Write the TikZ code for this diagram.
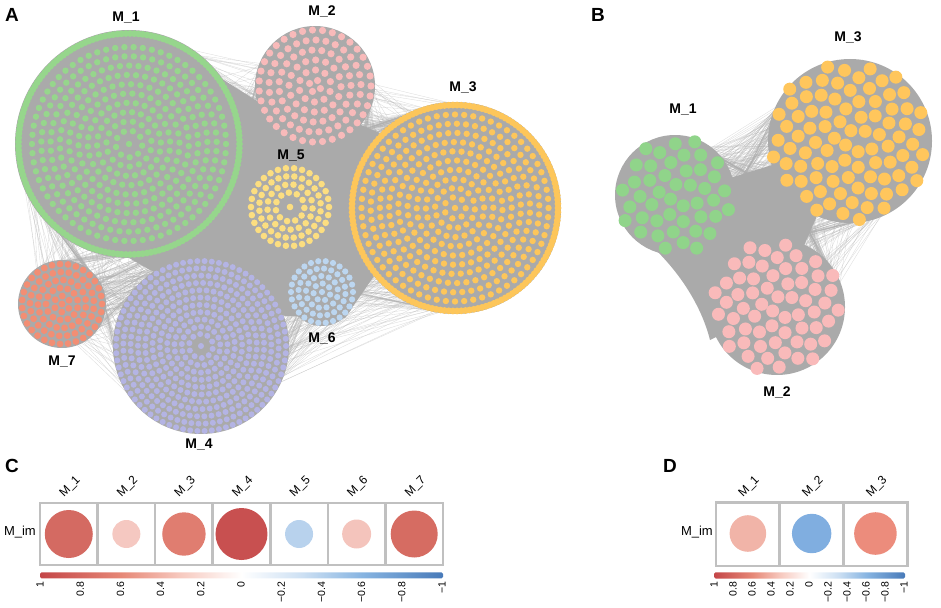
\documentclass[tikz,border=0pt]{standalone}
\usepackage{fontspec}
\setmainfont{Liberation Sans}
\usetikzlibrary{calc}
\definecolor{edgec}{RGB}{172,172,172}
\definecolor{coreg}{RGB}{170,170,170}
\definecolor{gridg}{RGB}{192,192,192}
\definecolor{m1c}{RGB}{150,214,140}
\definecolor{m2c}{RGB}{248,186,186}
\definecolor{m3c}{RGB}{253,198,90}
\definecolor{m4c}{RGB}{180,180,228}
\definecolor{m5c}{RGB}{252,222,128}
\definecolor{m6c}{RGB}{188,214,240}
\definecolor{m7c}{RGB}{242,142,116}
\definecolor{bgc}{RGB}{144,212,138}
\definecolor{byc}{RGB}{255,198,92}
\definecolor{bpc}{RGB}{249,186,186}
\definecolor{cbA}{RGB}{196,70,72}
\definecolor{cbB}{RGB}{230,135,118}
\definecolor{cbC}{RGB}{247,202,192}
\definecolor{cbD}{RGB}{205,224,243}
\definecolor{cbE}{RGB}{135,180,225}
\definecolor{cbF}{RGB}{72,122,185}
\definecolor{cC1}{RGB}{212,106,98}
\definecolor{cC2}{RGB}{245,200,193}
\definecolor{cC3}{RGB}{224,125,112}
\definecolor{cC4}{RGB}{200,80,80}
\definecolor{cC5}{RGB}{184,210,237}
\definecolor{cC6}{RGB}{244,196,188}
\definecolor{cC7}{RGB}{214,108,98}
\definecolor{cD1}{RGB}{241,180,168}
\definecolor{cD2}{RGB}{128,174,224}
\definecolor{cD3}{RGB}{236,140,124}
\pgfdeclarehorizontalshading{rdbu}{100bp}{color(0bp)=(cbA); color(25bp)=(cbA); color(35bp)=(cbB); color(42.5bp)=(cbC); color(50bp)=(white); color(57.5bp)=(cbD); color(65bp)=(cbE); color(75bp)=(cbF); color(100bp)=(cbF)}
\newcommand{\ringmod}[8]{%
  \foreach \j in {0,...,#5}{%
    \pgfmathsetmacro\myR{#3-\j*#4}%
    \pgfmathtruncatemacro\myN{max(1,round(2*pi*\myR/#6))}%
    \pgfmathsetmacro\myStep{360/\myN}%
    \pgfmathsetmacro\myOff{\j*23}%
    \foreach \k in {1,...,\myN}{%
      \pgfmathsetmacro\myAng{\myOff+\myStep*\k}%
      \fill[#8] (#1,#2) ++(\myAng:\myR) circle (#7);
    }}}
\newcommand{\phyllo}[6]{%
  \foreach \k in {1,...,#3}{%
    \pgfmathsetmacro\myR{#4*sqrt(\k-0.5)}%
    \pgfmathsetmacro\myAng{mod(137.508*\k,360)}%
    \fill[#6] (#1,#2) ++(\myAng:\myR) circle (#5);
  }}
\newcommand{\fan}[8]{%
  \pgfmathsetmacro\fanAng{atan2(#5-#2,#4-#1)}%
  \foreach \i in {1,...,#7}{%
    \pgfmathsetmacro\angA{\fanAng+#8*rand}%
    \pgfmathsetmacro\angB{\fanAng+180+#8*rand}%
    \draw[edge] ($(#1,#2)+(\angA:#3)$) -- ($(#4,#5)+(\angB:#6)$);
  }}
\begin{document}
\begin{tikzpicture}[x=1pt,y=-1pt,
  edge/.style={draw=edgec,line width=0.3pt,opacity=0.45},
  modlab/.style={font=\fontsize{14}{16}\selectfont\bfseries,inner sep=0pt},
  panlab/.style={font=\fontsize{19}{22}\selectfont\bfseries,inner sep=0pt},
  collab/.style={font=\fontsize{12}{14}\selectfont,inner sep=0pt,rotate=45,anchor=south west},
  rowlab/.style={font=\fontsize{13}{15}\selectfont,inner sep=0pt,anchor=east},
  ticklab/.style={font=\fontsize{10.5}{12}\selectfont,inner sep=0pt,rotate=90,anchor=east},
  gridl/.style={draw=gridg,line width=2.6pt}]
\useasboundingbox (0,0) rectangle (941,607);
\pgfmathsetseed{7}
% ---------------- Panel A ----------------
\fan{129}{144}{110}{455}{208}{104}{220}{50}
\fan{129}{144}{110}{315}{86}{58}{90}{45}
\fan{315}{86}{58}{455}{208}{104}{130}{50}
\fan{62}{304}{42}{129}{144}{110}{140}{60}
\fan{62}{304}{42}{201}{346}{86}{90}{55}
\fan{201}{346}{86}{455}{208}{104}{220}{55}
\fan{62}{304}{42}{455}{208}{104}{60}{30}
\fan{62}{304}{42}{290}{207}{42}{40}{30}
\fan{201}{346}{86}{315}{86}{58}{60}{30}
\fan{129}{144}{110}{201}{346}{86}{90}{60}
\fill[coreg] (222,79) -- (257,101) -- (361,125) -- (380,133) -- (374,276) -- (345,318) -- (285,316) -- (150,270) -- (129,258) -- (200,200) -- cycle;
\fill[coreg] (129,144) circle (114) (315,86) circle (60) (455,208) circle (106) (201,346) circle (88) (290,207) circle (42) (322,292) circle (34) (62,304) circle (44);
% M_1
\ringmod{129}{144}{110.5}{0}{0}{4.2}{3.4}{m1c}
\ringmod{129}{144}{97}{9.3}{9}{9.3}{3.2}{m1c}
\fill[m1c] (129,144) circle (3.2);
% M_3
\ringmod{455}{208}{103}{0}{0}{4.2}{3.4}{m3c}
\ringmod{455}{208}{93.5}{9.2}{9}{9.2}{3.2}{m3c}
\fill[m3c] (455,208) circle (3.2);
% M_4
\ringmod{201}{346}{85}{7.3}{10}{7.2}{3.0}{m4c}
\fill[m4c] (201,346) circle (3.0);
% M_2
\ringmod{315}{86}{56}{10}{5}{10}{3.6}{m2c}
% M_5
\ringmod{290}{207}{39}{8.2}{3}{8.2}{3.3}{m5c}
\fill[m5c] (290,207) circle (3.3);
% M_6
\ringmod{322}{292}{31}{7.5}{3}{7.5}{3.1}{m6c}
\fill[m6c] (322,292) circle (3.1);
% M_7
\ringmod{62}{304}{40}{8}{4}{8}{3.4}{m7c}
\fill[m7c] (62,304) circle (3.4);
\node[panlab] (pA) at (12,15) {A};
\node[modlab] (lA1) at (126,18) {M\_1};
\node[modlab] (lA2) at (322,11) {M\_2};
\node[modlab] (lA3) at (463,87) {M\_3};
\node[modlab] (lA5) at (291,156) {M\_5};
\node[modlab] (lA6) at (322,338) {M\_6};
\node[modlab] (lA7) at (62,362) {M\_7};
\node[modlab] (lA4) at (199,445) {M\_4};
% ---------------- Panel B ----------------
\fan{675}{195}{55}{850}{141}{80}{240}{45}
\fan{850}{141}{80}{777}{307}{65}{200}{50}
\fan{675}{195}{55}{777}{307}{65}{160}{60}
\fill[coreg] (675,195) -- (850,141) -- (777,307) -- (710,340) .. controls (700,300) and (670,255) .. (622,222) -- cycle;
\fill[coreg] (675,195) circle (60) (850,141) circle (82) (777,307) circle (68);
\phyllo{850}{141}{88}{8.5}{6.5}{byc}
\phyllo{675}{195}{45}{8.6}{6.5}{bgc}
\phyllo{777}{307}{62}{8.3}{6.5}{bpc}
\node[panlab] (pB) at (598,15) {B};
\node[modlab] (lB3) at (848,37) {M\_3};
\node[modlab] (lB1) at (683,110) {M\_1};
\node[modlab] (lB2) at (777,392) {M\_2};
% ---------------- Panel C ----------------
\node[panlab] (pC) at (12,466) {C};
\foreach \i/\r/\c in {1/24/cC1,2/14/cC2,3/21.7/cC3,4/26/cC4,5/14/cC5,6/14.5/cC6,7/23.5/cC7}{
  \fill[\c] ({40+57.57*(\i-0.5)},534) circle (\r);
  \node[collab] (cc\i) at ({40+57.57*(\i-0.5)-3},499) {M\_\i};
}
\draw[gridl] (40,503) rectangle (443,565);
\foreach \i in {1,...,6}{\draw[gridl] ({40+57.57*\i},503) -- ({40+57.57*\i},565);}
\node[rowlab] (rC) at (36,532) {M\_im};
\shade[shading=rdbu,rounded corners=1.5pt] (40,572.3) rectangle (443,578.3);
\foreach \v/\t in {1/1,0.8/0.8,0.6/0.6,0.4/0.4,0.2/0.2,0/0,-0.2/−0.2,-0.4/−0.4,-0.6/−0.6,-0.8/−0.8,-1/−1}{
  \node[ticklab] at ({40+(1-\v)*201},581.5) {\t};
}
% ---------------- Panel D ----------------
\node[panlab] (pD) at (670,466) {D};
\foreach \i/\r/\c in {1/18.3/cD1,2/19.7/cD2,3/21.3/cD3}{
  \fill[\c] ({716+63.77*(\i-0.5)},533.5) circle (\r);
  \node[collab] (dc\i) at ({716+63.77*(\i-0.5)-3},499) {M\_\i};
}
\draw[gridl] (716,502.5) rectangle (907.3,566);
\foreach \i in {1,2}{\draw[gridl] ({716+63.77*\i},502.5) -- ({716+63.77*\i},566);}
\node[rowlab] (rD) at (713,532) {M\_im};
\shade[shading=rdbu,rounded corners=1.5pt] (714,572.3) rectangle (905,578.5);
\foreach \v/\t in {1/1,0.8/0.8,0.6/0.6,0.4/0.4,0.2/0.2,0/0,-0.2/−0.2,-0.4/−0.4,-0.6/−0.6,-0.8/−0.8,-1/−1}{
  \node[ticklab] at ({714+(1-\v)*95},581.5) {\t};
}
\end{tikzpicture}
\end{document}
